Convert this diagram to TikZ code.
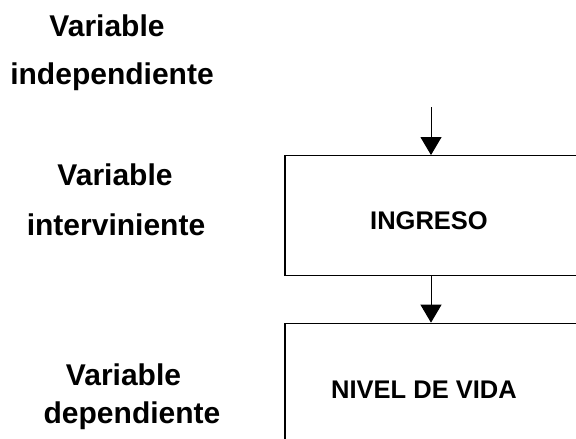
\documentclass[tikz,border=0pt]{standalone}
\usepackage{fontspec}
\setmainfont{Liberation Sans}
\usetikzlibrary{arrows.meta}
\begin{document}
\begin{tikzpicture}[x=1pt,y=-1pt,
  lbl/.style={anchor=base,inner sep=0pt,font=\fontsize{30}{30}\selectfont\bfseries},
  boxlbl/.style={anchor=base,inner sep=0pt,font=\fontsize{25.5}{25.5}\selectfont\bfseries},
  varbox/.style={draw,line width=1.3pt,rectangle,inner sep=0pt},
  conn/.style={line width=1pt,-{Triangle[width=21pt,length=18pt]}}]
\useasboundingbox (0,0) rectangle (576,439);
\clip (0,0) rectangle (576,439);
% left labels
\node[lbl] (v1) at (107,36) {Variable};
\node[lbl] (t1) at (112,84) {independiente};
\node[lbl] (v2) at (115,185) {Variable};
\node[lbl] (t2) at (116,235) {interviniente};
\node[lbl] (v3) at (123.5,385) {Variable};
\node[lbl] (t3) at (132,423) {dependiente};
% boxes
\node[varbox,minimum width=320pt,minimum height=120pt] (box1) at (445,215.7) {};
\node[varbox,minimum width=320pt,minimum height=160pt] (box2) at (445,403.3) {};
\node[boxlbl] (ing) at (429,229.3) {INGRESO};
\node[boxlbl] (niv) at (424,398.3) {NIVEL DE VIDA};
% connectors
\coordinate (top) at (431,107);
\draw[conn] (top) -- (top |- box1.north);
\draw[conn] (box1.south -| top) -- (box2.north -| top);
\end{tikzpicture}
\end{document}
